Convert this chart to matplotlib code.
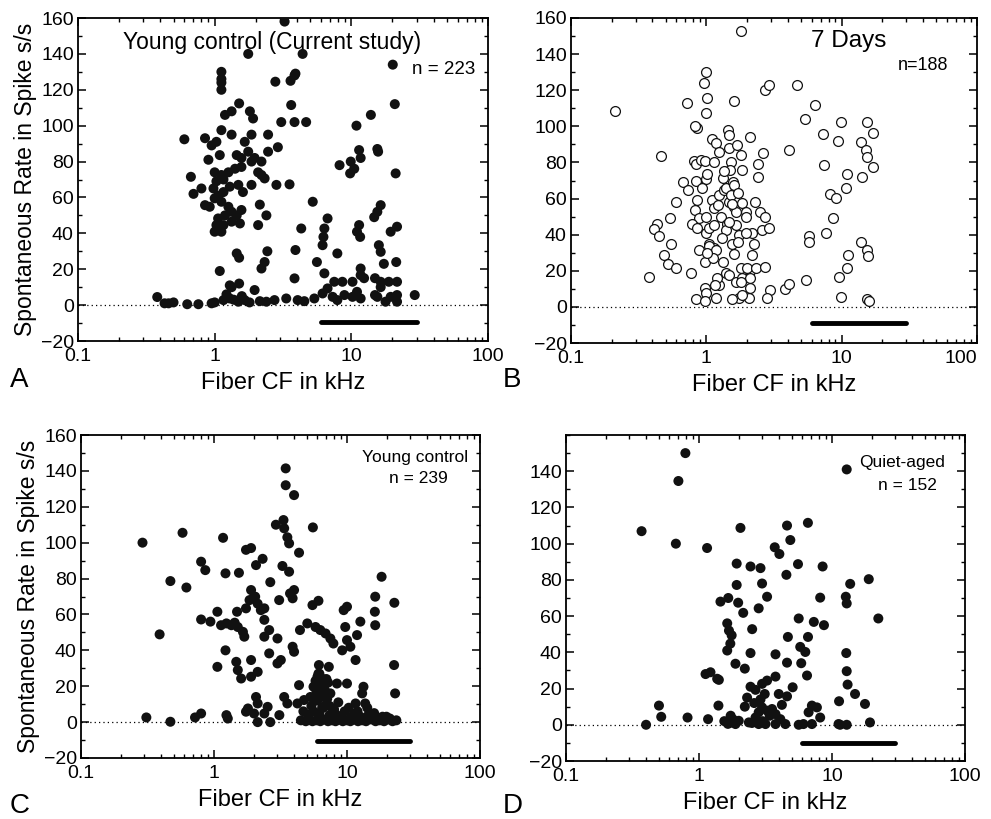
import matplotlib
matplotlib.use("Agg")
import matplotlib.pyplot as plt
from matplotlib.ticker import LogLocator, MultipleLocator, NullFormatter

plt.rcParams["font.family"] = ["Liberation Sans", "DejaVu Sans"]

FIG_W, FIG_H = 991, 819

# Panel A: young control (current study), filled circles
A_CF = [3.25, 1.76, 4.4, 20.1, 1.12, 1.12, 1.12, 1.12, 2.78, 3.59, 3.84, 3.9,
        3.63, 20.8, 1.51, 1.19, 1.33, 1.81, 1.91, 3.07, 3.84, 4.67, 13.9, 10.9,
        0.60, 0.85, 1.12, 1.33, 1.66, 1.86, 2.46, 0.95, 1.03, 2.9, 2.46,
        11.4, 11.7, 15.5, 15.7, 0.90, 1.09, 1.45, 1.57, 1.76, 1.86, 1.96, 2.2,
        8.2, 9.9, 10.5, 9.8, 21.1, 0.67, 1.0, 1.12, 1.26, 1.41, 1.57, 1.03, 1.16,
        2.08, 2.32, 2.2, 1.86, 2.83, 3.53, 0.70, 0.80, 0.98, 1.06, 1.16, 1.29, 1.49, 1.61,
        1.0, 1.12, 1.26, 0.85, 0.92, 1.33, 1.45, 1.57, 2.14, 2.39, 5.22, 16.4, 15.5, 14.7,
        1.06, 1.19, 1.03, 1.16, 1.33, 1.53, 1.0, 1.12, 2.08, 6.7, 6.35, 4.3, 11.4, 11.0,
        11.6, 19.4, 21.6, 1.45, 1.51, 2.43, 2.32, 3.9, 6.25, 6.16, 7.9, 15.9, 16.4, 21.3,
        17.3, 1.09, 2.2, 5.6, 6.35, 11.7, 11.7, 3.84, 7.5, 8.6, 10.2, 12.4, 14.9, 16.4,
        18.8, 21.6, 1.29, 1.51, 1.96, 6.7, 29.1, 11.0, 14.9, 21.6, 16.4,
        0.38, 0.43, 0.46, 0.50, 0.63, 0.76, 0.95, 1.0, 1.16, 1.29, 1.49, 1.66, 2.14, 2.39,
        2.74, 3.34, 4.05, 4.53, 5.36, 6.16, 7.3, 7.9, 8.9, 10.2, 11.7, 15.5, 17.8, 19.4,
        21.6, 1.22, 1.38, 1.58, 1.8, 1.33]
A_RATE = [158, 140, 140, 134, 130, 126, 124, 120, 124.5, 125, 128, 129,
          111.5, 112, 112.4, 106, 108, 108, 104, 102, 102, 102, 106, 100,
          92.4, 93, 97.5, 95, 91, 95, 95, 89, 91, 88, 85.5,
          86.4, 82, 87, 85.5, 81, 83.6, 83.6, 82, 85.5, 80, 82, 80,
          78, 80, 76, 73.4, 73.4, 71.5, 74, 72.5, 74, 76, 77, 69, 70,
          74, 70.6, 72.5, 67, 67, 67.3, 62, 65, 65, 61, 63, 66, 67, 63,
          59.5, 57.6, 54.8, 55.7, 54.8, 52, 50, 53, 56, 50, 57.6, 55.7, 52, 49,
          48.3, 50, 44.6, 44.6, 46.5, 45.5, 40.9, 40.9, 44.6, 48.3, 42.7, 42.7, 44.6, 40.9,
          38, 40.9, 43.7, 28.8, 26.4, 30, 24, 30.7, 38, 33.4, 28.8, 33.4, 29.7, 24,
          23, 19, 20.4, 24, 17.7, 20.4, 16.7, 14.9, 13, 13, 13, 15, 15, 13,
          13, 13, 11, 12, 8.4, 9.3, 5.6, 7.4, 5.6, 5.6, 10,
          4.5, 1, 1, 1.5, 0.5, 0.5, 1, 1.5, 2.8, 3.7, 1.9, 2.8, 2.2, 1.9,
          2.8, 3.7, 2.8, 2.2, 3.7, 6.5, 4.6, 2.8, 5.6, 4.6, 3.7, 4.6, 1.9, 4.6,
          1.9, 6, 3, 5, 1.5, 10]

# Panel B: 7 days, open circles
B_CF = [1.81, 1.0, 0.96, 1.02, 1.0, 0.72, 1.6, 0.21, 2.73, 2.88, 4.64, 6.39, 5.4,
        9.84, 15.3, 17.1, 7.3, 9.46, 14.0, 15.1, 15.3, 17.0, 14.2, 7.4, 10.9, 10.8,
        8.2, 9.1, 8.7, 7.7, 5.74, 5.7, 4.1, 13.8, 15.3, 15.6, 11.2, 10.9, 9.5, 5.46,
        9.9, 15.5, 15.9, 3.82, 4.08, 2.96, 2.83, 2.12, 0.46, 0.38, 0.43, 0.41, 0.45,
        0.54, 0.60, 0.55, 0.49, 0.52, 0.60, 0.77, 0.67, 0.73, 0.81, 0.84, 0.86, 0.83,
        0.84, 1.0, 1.02, 0.91, 0.98, 1.14, 1.11, 1.18, 0.86, 0.82, 0.89, 0.78, 0.86,
        1.0, 1.0, 1.05, 1.14, 0.89, 0.97, 1.05, 1.14, 0.98, 1.0, 0.84, 0.98, 1.18,
        1.11, 1.14, 1.24, 1.35, 1.21, 1.32, 1.39, 1.45, 1.47, 1.47, 1.51, 1.69, 1.79,
        2.12, 1.84, 2.62, 2.41, 2.41, 1.49, 1.58, 1.6, 1.47, 1.51, 1.6, 1.65, 1.28,
        1.43, 1.39, 1.65, 1.74, 1.84, 1.95, 1.98, 1.56, 1.6, 1.47, 1.05, 1.18, 1.33,
        1.39, 1.47, 1.24, 1.65, 1.79, 2.0, 2.17, 2.31, 2.5, 2.73, 2.57, 2.88, 2.17,
        2.25, 1.95, 2.73, 1.84, 2.12, 2.1, 2.06, 1.74, 1.54, 1.84, 1.79, 1.2, 1.16,
        1.12, 1.02, 1.36, 1.55, 1.7, 1.3, 0.93, 1.25, 1.72, 2.3]
B_RATE = [152.8, 130, 124, 115.5, 107.6, 113, 114, 108.7, 120, 123, 123, 112, 104,
          102.5, 102.5, 96.5, 96, 92, 91.5, 87, 83, 77.7, 71.8, 78.6, 73.8, 66,
          62.6, 60.5, 49.5, 41, 39, 36, 87, 36, 31.5, 28.4, 28.8, 21.4, 16.8, 15,
          5.4, 4.2, 3.5, 10, 12.5, 9.4, 5.2, 20, 83.6, 16.8, 46, 43, 39,
          49, 58, 35, 29, 24, 21.4, 18.6, 69.4, 65, 81, 79, 99, 100,
          70, 71, 73.5, 81.4, 81, 80.5, 93, 90.6, 59, 53.7, 49, 45.8, 43.5,
          50, 40.8, 43.5, 45.4, 31.6, 24.7, 35, 32.5, 10.3, 7.6, 4.4, 3.5, 5.2,
          59, 54.6, 62, 64.8, 56.5, 71.2, 65.7, 98, 95, 88, 80.5, 89.7, 84,
          94, 75.9, 85.5, 79, 72, 76, 69.4, 67.6, 58, 62, 55.5, 52.8, 50,
          46, 42.6, 45.4, 39.9, 57.4, 52.8, 50, 35, 29.2, 47.2, 34, 31.6, 24.7,
          18.6, 17.7, 12.2, 14, 21.4, 21.4, 28.8, 21.4, 52.8, 50, 42.6, 43.5, 40.8,
          35, 40.8, 22, 15.9, 10.3, 15.9, 5.2, 5.2, 4.4, 6.6, 14, 15.9, 12,
          27, 30, 75, 57, 63, 38, 66, 86, 36, 58]

# Panel C: young control, filled circles
C_CF = [3.46, 3.46, 4.0, 2.92, 3.33, 3.37, 3.56, 3.67, 5.54, 4.36, 0.29, 0.58, 1.17,
        1.74, 1.9, 0.80, 0.86, 1.22, 1.54, 2.07, 2.32, 3.27, 3.67, 2.65, 0.47, 0.62,
        18.2, 0.39, 1.9, 2.0, 2.13, 2.25, 3.09, 3.73, 4.0, 3.9, 5.5, 6.1, 9.44, 10.0,
        16.3, 16.2, 16.3, 22.7, 0.80, 0.94, 1.06, 1.13, 1.24, 1.35, 1.43, 1.51, 1.65,
        1.69, 1.49, 1.74, 1.85, 2.04, 2.39, 2.39, 2.39, 2.6, 3.0, 4.43, 5.03, 5.8, 6.3,
        6.9, 7.5, 7.9, 9.7, 10.0, 9.2, 10.6, 11.9, 12.6, 1.22, 1.06, 1.47, 1.51, 1.6,
        1.9, 1.9, 2.13, 2.6, 3.18, 3.0, 3.9, 4.0, 11.6, 22.6, 23.0, 6.15, 7.3, 6.0,
        6.3, 5.6, 6.5, 6.9, 7.5, 8.4, 5.3, 4.75, 4.36, 10.0, 13.3, 13.0, 11.6, 13.7,
        2.07, 2.13, 2.53, 3.37, 3.56, 4.24, 1.8, 2.0, 1.74, 2.39, 0.31, 0.47, 0.72,
        0.80, 1.24, 1.27, 2.13, 2.65, 3.1,
        4.5, 4.9, 5.2, 5.5, 5.9, 6.3, 6.8, 7.2, 7.7, 8.2, 8.8, 9.3, 10.0, 10.6, 11.4,
        12.1, 13.0, 13.9, 15.2, 16.4, 17.6, 19.0, 20.4, 22.0, 23.5,
        5.1, 6.2, 7.4, 9.1, 11.3, 12.6, 14.5, 6.6, 7.0, 5.8, 6.1, 6.6, 6.4, 7.2,
        5.4, 8.0, 9.6, 12.0, 16.0, 18.5, 4.7, 5.7, 6.8, 8.6, 10.3, 14.2, 19.8,
        6.0, 6.4, 6.8, 7.1, 6.2, 6.7, 5.9, 7.0, 6.5, 7.4, 5.6, 8.3, 9.0, 10.8,
        12.4, 15.0, 17.0, 21.0]
C_RATE = [141.4, 132, 126.5, 110, 112.6, 108, 103, 99.6, 108.5, 94.4, 100, 105.5, 102.7,
          96, 97, 89.4, 84.7, 82.9, 83.2, 87.5, 91, 87, 83.8, 78, 78.6, 75,
          81, 48.9, 73.6, 70, 66, 62.4, 68, 71.7, 73.6, 69, 65.2, 67.6, 62.4, 64.3,
          69.9, 61.5, 54, 66.5, 57.2, 56, 61.5, 54, 55, 54, 55.4, 53, 50.3,
          47.6, 61.5, 63.4, 68, 69.9, 63.4, 57, 47.6, 51.3, 46.6, 51.3, 55, 53, 51.3,
          49.4, 46.6, 43.8, 53, 45.7, 40, 42, 48.5, 56, 40, 30.8, 33.6, 29, 24.3,
          34.6, 25.3, 28, 38.3, 34.6, 32.7, 42, 39.2, 34.6, 31.8, 16, 31.8, 30.8, 25.3,
          21.5, 19.7, 17.8, 14, 16, 21.5, 14, 12.3, 20.6, 21.5, 19.7, 16, 10.4, 10.4,
          14, 10.4, 8.5, 14, 10.4, 10.4, 7.6, 4.8, 5.8, 4.8, 2.6, 0.2, 2.6,
          4.8, 3.9, 2, 0, 0, 3.9,
          1, 0.5, 1.5, 0.5, 1, 0.5, 1.5, 0.5, 1, 0.5, 1.5, 0.5, 1, 0.5, 1.5,
          0.5, 1, 0.5, 1.5, 0.5, 1, 0.5, 1.5, 0.5, 1,
          4, 5, 4, 3.5, 4.5, 3, 4, 8, 10, 23, 27, 24, 19, 22,
          9, 7, 6, 6, 5, 3, 6, 12, 14, 11, 8, 8, 3,
          12, 15, 18, 13, 27, 22, 17, 24, 8, 9, 6, 4, 2, 3,
          2, 3, 2, 2]

# Panel D: quiet-aged, filled circles
D_CF = [0.79, 0.70, 12.9, 0.37, 0.67, 1.15, 2.05, 4.59, 6.59, 4.86, 3.71, 4.02,
        1.92, 2.44, 2.9, 5.55, 8.5, 4.54, 13.7, 18.9, 1.92, 2.98, 3.25, 8.15,
        1.45, 1.66, 1.97, 2.15, 2.81, 12.7, 12.9, 22.3, 1.63, 1.68, 1.76, 2.51,
        5.62, 7.3, 8.7, 4.66, 6.6, 5.77, 6.3, 1.63, 1.72, 2.44, 3.76, 4.59, 12.8,
        1.88, 2.21, 1.12, 1.22, 1.37, 1.41, 5.87, 6.49, 12.9, 13.1, 14.9, 17.7, 11.3,
        2.44, 2.66, 2.98, 3.25, 3.76, 3.12, 5.06, 4.59, 3.98, 0.50, 0.52, 0.82, 1.17,
        1.40, 2.21, 0.40, 1.73, 1.88, 1.99, 2.37, 2.66, 2.81, 2.98, 3.25, 3.54, 3.76,
        4.09, 4.46, 3.16, 2.81, 3.76, 5.62, 6.1, 6.67, 7.06, 7.7, 8.15, 7.06, 11.5,
        12.9, 19.3, 11.2, 1.55, 1.65, 1.8, 2.6, 2.9, 3.4, 2.5, 3.0, 4.2, 1.7, 2.3]
D_RATE = [150, 134.6, 141, 106.9, 100, 97.6, 108.7, 110, 111.5, 102, 98, 94.3,
          89, 87.4, 86.5, 88.7, 87.4, 82.8, 77.8, 80.4, 77.2, 78, 70.7, 70.2,
          68, 70, 67.4, 61.8, 64.3, 70.7, 67, 58.7, 56, 52, 49.4, 52.8,
          58.7, 56.8, 55, 48.5, 48.5, 43, 40.2, 41, 44.8, 39.6, 38.9, 34.3, 39.6,
          33.7, 31, 28, 29, 25.4, 24.8, 34, 27.2, 29.6, 22.2, 17, 11.5, 13,
          21, 19.3, 22.6, 24.4, 26.6, 17, 20.7, 15.7, 17, 10.6, 4.4, 4, 3.1,
          10.6, 10, 0, 5, 0.4, 2.2, 1.3, 4, 6.9, 9.6, 7.8, 8.7, 5.9,
          3.1, 0.4, 0.4, 0.4, 0.4, 0, 0.4, 6.9, 0.4, 9.6, 4, 10.6, 0,
          0, 1.3, 0.4, 2, 0.5, 3, 12, 14, 5, 1, 2, 11, 1, 15]

# bar under each panel (CF range, y level)
BAR_CF = [6, 30]
BAR_Y = [-9.5, -8.7, -10.5, -10]


def px_rect(x0, y0, x1, y1):
    return [x0 / FIG_W, 1 - y1 / FIG_H, (x1 - x0) / FIG_W, (y1 - y0) / FIG_H]


def setup(ax, ylabel, yticks):
    ax.set_xscale("log")
    ax.set_xlim(0.1, 100)
    ax.set_ylim(-20, 160)
    ax.set_xticks([0.1, 1, 10, 100], ["0.1", "1", "10", "100"])
    ax.xaxis.set_minor_locator(LogLocator(base=10, subs=range(2, 10)))
    ax.xaxis.set_minor_formatter(NullFormatter())
    ax.set_yticks(yticks)
    ax.yaxis.set_minor_locator(MultipleLocator(10))
    ax.tick_params(which="both", direction="in", top=True, right=True, labelsize=14)
    ax.tick_params(axis="x", pad=5)
    ax.tick_params(axis="y", pad=3)
    ax.tick_params(which="major", length=6, width=1.1)
    ax.tick_params(which="minor", length=3, width=1)
    for s in ax.spines.values():
        s.set_linewidth(1.3)
    ax.axhline(0, color="black", lw=0.9, ls=(0, (1, 2.5)), zorder=1)
    ax.set_xlabel("Fiber CF in kHz", fontsize=17, labelpad=5)
    if ylabel:
        ax.set_ylabel("Spontaneous Rate in Spike s/s", fontsize=16.5, labelpad=3)


def main():
    fig = plt.figure(figsize=(FIG_W / 100, FIG_H / 100), dpi=100)
    full = list(range(-20, 161, 20))
    dot = dict(s=52, color="#111111", edgecolors="none", zorder=3)

    ax_a = fig.add_axes(px_rect(78, 18, 488, 341))
    setup(ax_a, True, full)
    ax_a.scatter(A_CF, A_RATE, **dot)
    ax_a.plot(BAR_CF, [BAR_Y[0]] * 2, color="black", lw=3.5, solid_capstyle="round")
    ax_a.text(0.11, 0.925, "Young control (Current study)", transform=ax_a.transAxes,
              fontsize=16.5, va="center")
    ax_a.text(0.815, 0.84, "n = 223", transform=ax_a.transAxes, fontsize=13.5, va="center")

    ax_b = fig.add_axes(px_rect(571, 18, 977, 343))
    setup(ax_b, False, full)
    ax_b.scatter(B_CF, B_RATE, s=50, facecolors="white", edgecolors="#111111",
                 linewidths=0.9, zorder=3)
    ax_b.plot(BAR_CF, [BAR_Y[1]] * 2, color="black", lw=3.5, solid_capstyle="round")
    ax_b.text(0.59, 0.93, "7 Days", transform=ax_b.transAxes, fontsize=17.5, va="center")
    ax_b.text(0.805, 0.855, "n=188", transform=ax_b.transAxes, fontsize=13, va="center")
    ax_b.get_xticklabels()[-1].set_horizontalalignment("right")

    ax_c = fig.add_axes(px_rect(81, 435, 480, 758))
    setup(ax_c, True, full)
    ax_c.scatter(C_CF, C_RATE, **dot)
    ax_c.plot(BAR_CF, [BAR_Y[2]] * 2, color="black", lw=3.5, solid_capstyle="round")
    ax_c.text(0.97, 0.93, "Young control", transform=ax_c.transAxes, fontsize=12.5,
              ha="right", va="center")
    ax_c.text(0.92, 0.865, "n = 239", transform=ax_c.transAxes, fontsize=12.5,
              ha="right", va="center")

    ax_d = fig.add_axes(px_rect(566, 435, 965, 761))
    setup(ax_d, False, full[:-1])
    ax_d.scatter(D_CF, D_RATE, **dot)
    ax_d.plot(BAR_CF, [BAR_Y[3]] * 2, color="black", lw=3.5, solid_capstyle="round")
    ax_d.text(0.95, 0.915, "Quiet-aged", transform=ax_d.transAxes, fontsize=12.5,
              ha="right", va="center")
    ax_d.text(0.93, 0.845, "n = 152", transform=ax_d.transAxes, fontsize=12.5,
              ha="right", va="center")

    for label, (x, y) in zip("ABCD", [(10, 380), (503, 380), (10, 806), (503, 806)]):
        fig.text(x / FIG_W, 1 - y / FIG_H, label, fontsize=20, va="center")

    fig.savefig("out.png", dpi=100)
    plt.close(fig)


if __name__ == "__main__":
    main()
